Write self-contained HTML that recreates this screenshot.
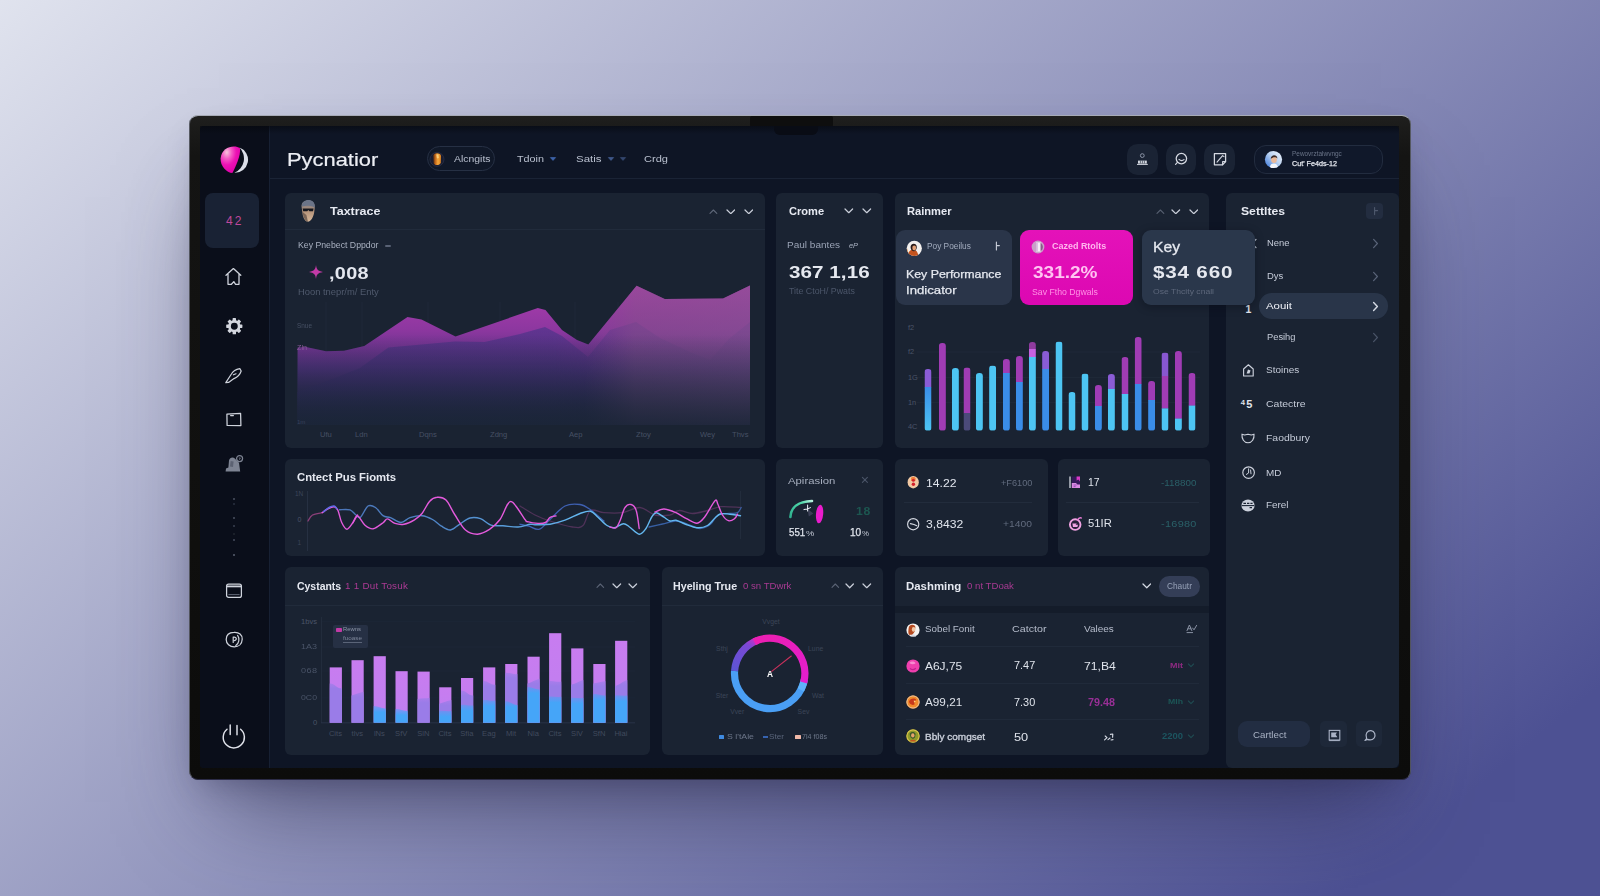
<!DOCTYPE html>
<html><head><meta charset="utf-8"><title>Dashboard</title>
<style>
html,body{margin:0;padding:0;}
body{width:1600px;height:896px;overflow:hidden;position:relative;font-family:"Liberation Sans",sans-serif;
background:linear-gradient(140.7deg,#e0e3ee 0%,#4d5193 90.5%,#4d5193 100%);}
.b{position:absolute;display:block;}
.t{position:absolute;white-space:nowrap;line-height:1;display:block;transform-origin:0 50%;}
</style></head><body>
<div class="b" style="left:189px;top:115px;width:1222px;height:665px;background:linear-gradient(180deg,#1f1f1e 0,#1b1b1a 12px,#141413 40px,#0c0c0b 100%);border-radius:9px;box-shadow:0 52px 90px -30px rgba(38,38,72,.62),0 14px 30px -12px rgba(38,38,72,.35);border-top:1px solid #8d9099;box-sizing:border-box"></div>
<div class="b" style="left:189px;top:115px;width:1222px;height:665px;border-radius:9px;box-sizing:border-box;border:1px solid rgba(140,144,160,.55);border-top-color:rgba(170,174,186,.9);border-bottom-color:rgba(60,60,100,.7)"></div>
<div class="b" style="left:750.0px;top:116.0px;width:83.0px;height:11.0px;background:#0e0e0e;border-radius:2px;"></div>
<div class="b" style="left:200.0px;top:126.0px;width:1199.0px;height:642.0px;background:#0e1525;border-radius:4px;"></div>
<div class="b" style="left:200.0px;top:126.0px;width:69.0px;height:642.0px;background:#0a0e1a;border-radius:0px;border-radius:4px 0 0 4px;"></div>
<div class="b" style="left:269.0px;top:126.0px;width:1.0px;height:642.0px;background:#172033;border-radius:0px;"></div>
<div class="b" style="left:270.0px;top:178.0px;width:1129.0px;height:1.0px;background:#1a2335;border-radius:0px;"></div>
<div class="b" style="left:200.0px;top:126.0px;width:1199.0px;height:8.0px;background:linear-gradient(180deg,rgba(5,7,12,.55),rgba(5,7,12,0));border-radius:0px;"></div>
<div class="b" style="left:774.0px;top:126.0px;width:44.0px;height:8.5px;background:#090c15;border-radius:0px;border-radius:0 0 6px 6px;"></div>
<div class="b" style="left:284.5px;top:192.5px;width:480.5px;height:255.0px;background:#1a2332;border-radius:6px;"></div>
<div class="b" style="left:775.8px;top:192.5px;width:107.5px;height:255.0px;background:#1a2332;border-radius:6px;"></div>
<div class="b" style="left:894.8px;top:192.5px;width:314.7px;height:255.0px;background:#1a2332;border-radius:6px;"></div>
<div class="b" style="left:1226.0px;top:192.5px;width:173.0px;height:575.5px;background:#1a2332;border-radius:6px;"></div>
<div class="b" style="left:284.5px;top:459.0px;width:480.5px;height:96.5px;background:#1a2332;border-radius:6px;"></div>
<div class="b" style="left:775.8px;top:459.0px;width:107.5px;height:96.5px;background:#1a2332;border-radius:6px;"></div>
<div class="b" style="left:895.0px;top:459.0px;width:152.8px;height:96.5px;background:#1a2332;border-radius:6px;"></div>
<div class="b" style="left:1057.5px;top:459.0px;width:152.0px;height:96.5px;background:#1a2332;border-radius:6px;"></div>
<div class="b" style="left:284.5px;top:567.0px;width:365.5px;height:187.5px;background:#1a2332;border-radius:6px;"></div>
<div class="b" style="left:661.8px;top:567.0px;width:221.5px;height:187.5px;background:#1a2332;border-radius:6px;"></div>
<div class="b" style="left:894.8px;top:567.0px;width:314.7px;height:187.5px;background:#1a2332;border-radius:6px;"></div>
<div class="b" style="left:284.5px;top:228.5px;width:480.5px;height:1.0px;background:#212b3b;border-radius:0px;"></div>
<div class="b" style="left:284.5px;top:605.0px;width:365.5px;height:1.0px;background:#212b3b;border-radius:0px;"></div>
<div class="b" style="left:661.8px;top:605.0px;width:221.5px;height:1.0px;background:#212b3b;border-radius:0px;"></div>
<div class="b" style="left:894.8px;top:606.0px;width:314.7px;height:6.5px;background:#141c2a;border-radius:0px;"></div>
<svg class="b" style="left:218.0px;top:144.0px;" width="32" height="32" viewBox="0 0 32 32">
<defs>
<radialGradient id="lg1" cx="32%" cy="22%" r="80%"><stop offset="0" stop-color="#f8c4dc"/><stop offset=".3" stop-color="#f45cc6"/><stop offset=".6" stop-color="#ec12b4"/><stop offset="1" stop-color="#e000a8"/></radialGradient>
</defs>
<path d="M21.5 3.6 A13 13 0 0 1 16.5 28.8 A15.5 15.5 0 0 0 21.5 3.6Z" fill="#dcdfe9"/>
<path d="M22 4.2 C 16.5 0.4 3.6 2.6 2.6 14.4 C 2.2 22 8.6 28.6 14.4 29 C 17.6 23 23 11 22 4.2Z" fill="url(#lg1)"/>
</svg>
<div class="b" style="left:205.3px;top:192.5px;width:54.0px;height:55.5px;background:#192234;border-radius:8px;"></div>
<span class="t" style="left:226.0px;top:214.6px;font-size:12.0px;letter-spacing:2.15px;color:#c0489c;">42</span>
<svg class="b" style="left:223.0px;top:266.0px;" width="21" height="21" viewBox="0 0 21 21"><path d="M3 9.2 L10.4 2.6 L17.8 9.2 M5 8 V18.3 H8.4 L10.8 15.6 L12.6 18.3 H16 V8" fill="none" stroke="#cfd3dc" stroke-width="1.3" stroke-linejoin="round" stroke-linecap="round"/></svg>
<svg class="b" style="left:223.5px;top:315.5px;" width="20" height="20" viewBox="0 0 20 20"><g transform="translate(10.3,10.2)"><rect x="-1.7" y="-8.1" width="3.4" height="3.6" rx=".6" transform="rotate(0)" fill="#d3d6de"/><rect x="-1.7" y="-8.1" width="3.4" height="3.6" rx=".6" transform="rotate(45)" fill="#d3d6de"/><rect x="-1.7" y="-8.1" width="3.4" height="3.6" rx=".6" transform="rotate(90)" fill="#d3d6de"/><rect x="-1.7" y="-8.1" width="3.4" height="3.6" rx=".6" transform="rotate(135)" fill="#d3d6de"/><rect x="-1.7" y="-8.1" width="3.4" height="3.6" rx=".6" transform="rotate(180)" fill="#d3d6de"/><rect x="-1.7" y="-8.1" width="3.4" height="3.6" rx=".6" transform="rotate(225)" fill="#d3d6de"/><rect x="-1.7" y="-8.1" width="3.4" height="3.6" rx=".6" transform="rotate(270)" fill="#d3d6de"/><rect x="-1.7" y="-8.1" width="3.4" height="3.6" rx=".6" transform="rotate(315)" fill="#d3d6de"/><circle r="4.8" fill="none" stroke="#d3d6de" stroke-width="2.7"/></g></svg>
<svg class="b" style="left:223.0px;top:366.0px;" width="20" height="19" viewBox="0 0 20 19"><path d="M2.8 16.6 L8.4 8 C9.8 5.4 12.4 3.4 16.8 2.6 L18.2 5 C17 8.8 14.6 11 11 12.6 L5.6 16.4 Z M10.4 8.8 L13 7.8" fill="none" stroke="#cfd3dc" stroke-width="1.2" stroke-linejoin="round" stroke-linecap="round"/></svg>
<svg class="b" style="left:224.0px;top:410.0px;" width="20" height="18" viewBox="0 0 20 18"><path d="M2.9 4.2 L16.6 3.3 L16.9 15.6 L3.1 15.4Z" fill="none" stroke="#cfd3dc" stroke-width="1.25" stroke-linejoin="round"/><path d="M6.6 5.6 H9.4" stroke="#cfd3dc" stroke-width="1.2" stroke-linecap="round"/></svg>
<svg class="b" style="left:222.0px;top:453.0px;" width="26" height="22" viewBox="0 0 26 22"><path d="M3.6 18.6 L4 15.4 L6.4 14.6 L7 7.4 C7.6 4.4 11 3.6 12.8 5.4 L17 9.8 L18.2 18.6Z" fill="#7d8392"/><path d="M8.6 8 L11.6 8.6 L11 14 L8 13.6Z" fill="#5c6272"/><circle cx="17.6" cy="5.6" r="3" fill="none" stroke="#7d8392" stroke-width="1.2"/><path d="M16.8 5 L18.4 5 L17.4 6.8" fill="none" stroke="#7d8392" stroke-width=".8"/></svg>
<div class="b" style="left:233.2px;top:497.5px;width:2.0px;height:2.0px;background:#4a5060;border-radius:1px;"></div>
<div class="b" style="left:233.2px;top:503.2px;width:2.0px;height:2.0px;background:#2a3040;border-radius:1px;"></div>
<div class="b" style="left:233.2px;top:516.6px;width:2.0px;height:2.0px;background:#4a5060;border-radius:1px;"></div>
<div class="b" style="left:233.2px;top:524.6px;width:2.0px;height:2.0px;background:#3a4050;border-radius:1px;"></div>
<div class="b" style="left:233.2px;top:533.0px;width:2.0px;height:2.0px;background:#20262f;border-radius:1px;"></div>
<div class="b" style="left:233.2px;top:539.2px;width:2.0px;height:2.0px;background:#454b5c;border-radius:1px;"></div>
<div class="b" style="left:233.2px;top:553.8px;width:2.0px;height:2.0px;background:#5a6070;border-radius:1px;"></div>
<svg class="b" style="left:224.0px;top:581.0px;" width="20" height="19" viewBox="0 0 20 19"><rect x="2.6" y="3" width="14.8" height="13.4" rx="2" fill="none" stroke="#cfd3dc" stroke-width="1.25"/><path d="M3 5.4 H17" stroke="#cfd3dc" stroke-width="1.8"/><path d="M4.4 13.6 H15.6" stroke="#6a7080" stroke-width=".9"/></svg>
<svg class="b" style="left:223.0px;top:630.0px;" width="22" height="19" viewBox="0 0 22 19"><path d="M11 2.4 C16 2 19.4 5 19.2 9.2 C19 14 15.6 16.8 11.4 16.8 C6.6 16.8 3.2 13.8 3.2 9.4 C3.2 5 6.4 2.6 11 2.4Z" fill="none" stroke="#cfd3dc" stroke-width="1.25"/><path d="M10.2 12.4 V7.2 C13.4 6.4 14.6 9.8 11.4 10.6 M14.6 5.4 C17 8.6 16 13.4 12.8 15.6" fill="none" stroke="#cfd3dc" stroke-width="1.2" stroke-linecap="round"/></svg>
<svg class="b" style="left:219.0px;top:721.0px;" width="30" height="30" viewBox="0 0 30 30"><path d="M8 8.2 A10.6 10.6 0 1 0 21.6 8.2" fill="none" stroke="#e0e2ea" stroke-width="1.45" stroke-linecap="round"/><path d="M11.2 4 V13.6 M18 4.4 V13.8" stroke="#e0e2ea" stroke-width="1.45" stroke-linecap="round"/></svg>
<span class="t" style="left:286.8px;top:149.7px;font-size:19.0px;letter-spacing:0.00px;color:#eceef4;transform:scaleX(1.152);-webkit-text-stroke:.2px #eceef4;">Pycnatior</span>
<div class="b" style="left:426.5px;top:146px;width:68.5px;height:24.5px;border:1px solid #263044;border-radius:13px;box-sizing:border-box;background:#101828"></div>
<svg class="b" style="left:429.0px;top:151.0px;" width="16" height="17" viewBox="0 0 16 17"><defs><linearGradient id="oa" x1="0" y1="0" x2="1" y2="0"><stop offset="0" stop-color="#5a2c10"/><stop offset=".3" stop-color="#c56a1c"/><stop offset=".6" stop-color="#f5a83c"/><stop offset="1" stop-color="#d9801e"/></linearGradient></defs>
<circle cx="8" cy="8.3" r="7" fill="#1a1d30" stroke="#262c44" stroke-width="1"/><path d="M4.2 4.6 C5.4 1.6 10.8 1.6 12 4.8 L11.8 11.4 C11 14.6 5.6 15 4.6 12 Z" fill="url(#oa)"/><path d="M7.2 3.6 L9.4 3.4 L9.8 7 L8 7.6Z" fill="#ffd98a" opacity=".8"/></svg>
<span class="t" style="left:453.5px;top:154.2px;font-size:9.6px;letter-spacing:0.00px;color:#b9c0cf;transform:scaleX(1.086);">Alcngits</span>
<span class="t" style="left:517.0px;top:154.2px;font-size:9.6px;letter-spacing:0.00px;color:#b9c0cf;transform:scaleX(1.124);">Tdoin</span>
<svg class="b" style="left:549.0px;top:156.0px;" width="8" height="6" viewBox="0 0 8 6"><path d="M1.4 1.6 L4 4.4 L6.6 1.6Z" fill="#3d63a8" stroke="#3d63a8" stroke-width=".8" stroke-linejoin="round"/></svg>
<span class="t" style="left:576.0px;top:154.2px;font-size:9.6px;letter-spacing:0.00px;color:#b9c0cf;transform:scaleX(1.195);">Satis</span>
<svg class="b" style="left:606.5px;top:156.0px;" width="8" height="6" viewBox="0 0 8 6"><path d="M1.4 1.6 L4 4.4 L6.6 1.6Z" fill="#40598c" stroke="#40598c" stroke-width=".8" stroke-linejoin="round"/></svg>
<svg class="b" style="left:618.5px;top:156.0px;" width="8" height="6" viewBox="0 0 8 6"><path d="M1.4 1.6 L4 4.4 L6.6 1.6Z" fill="#33476f" stroke="#33476f" stroke-width=".8" stroke-linejoin="round"/></svg>
<span class="t" style="left:644.0px;top:154.2px;font-size:9.6px;letter-spacing:0.00px;color:#b9c0cf;transform:scaleX(1.153);">Crdg</span>
<div class="b" style="left:1127.0px;top:144.0px;width:30.6px;height:30.5px;background:#1a2334;border-radius:10.5px;"></div>
<div class="b" style="left:1165.7px;top:144.0px;width:30.6px;height:30.5px;background:#1a2334;border-radius:10.5px;"></div>
<div class="b" style="left:1204.4px;top:144.0px;width:30.6px;height:30.5px;background:#1a2334;border-radius:10.5px;"></div>
<svg class="b" style="left:1134.0px;top:151.0px;" width="17" height="17" viewBox="0 0 17 17"><circle cx="8.3" cy="4.6" r="1.9" fill="none" stroke="#8a93a6" stroke-width="1"/><path d="M4 9.6 H12.8 V12.6 H4Z" fill="#d5d9e2"/><path d="M3 13.4 H13.8" stroke="#d5d9e2" stroke-width="1"/><path d="M6.4 9.6 V12.4 M8.4 9.6 V12.4 M10.4 9.6 V12.4" stroke="#1a2334" stroke-width=".6"/></svg>
<svg class="b" style="left:1172.0px;top:150.0px;" width="18" height="18" viewBox="0 0 18 18"><circle cx="9.4" cy="8.6" r="5.2" fill="none" stroke="#d5d9e2" stroke-width="1.3"/><path d="M5.4 12.4 L3.6 14.4 M7 9.4 C8.6 10.8 10.6 10.8 12 9.6" fill="none" stroke="#d5d9e2" stroke-width="1.2" stroke-linecap="round"/></svg>
<svg class="b" style="left:1210.5px;top:150.0px;" width="18" height="18" viewBox="0 0 18 18"><path d="M3.4 3.6 H14.6 V11.6 L11.6 14.8 H3.4Z" fill="none" stroke="#d5d9e2" stroke-width="1.25" stroke-linejoin="round"/><path d="M6 12.2 L11.6 5.6 L13 6.6 M11.6 14.8 V11.6 H14.6" fill="none" stroke="#d5d9e2" stroke-width="1.1" stroke-linecap="round" stroke-linejoin="round"/></svg>
<div class="b" style="left:1254px;top:144.8px;width:129px;height:29px;border:1px solid #222c3f;border-radius:12px;box-sizing:border-box;background:#10182a"></div>
<svg class="b" style="left:1264.3px;top:149.9px;" width="19" height="19" viewBox="0 0 19 19"><defs><linearGradient id="ua" x1="0" y1="1" x2="1" y2="0"><stop offset="0" stop-color="#2f6fd8"/><stop offset=".55" stop-color="#bcd4f2"/><stop offset="1" stop-color="#f2f5fb"/></linearGradient><clipPath id="uc"><circle cx="9.5" cy="9.5" r="8.6"/></clipPath></defs>
<circle cx="9.5" cy="9.5" r="8.6" fill="url(#ua)"/><g clip-path="url(#uc)"><path d="M5.6 19 C5.8 14.6 7.4 13.4 9.8 13.4 C12.4 13.4 14 14.8 14.2 19Z" fill="#f4f6fa"/><ellipse cx="10" cy="9.4" rx="2.9" ry="3.5" fill="#e9b99a"/><path d="M6.8 8.8 C6.6 4.6 13.2 4 13.4 8.4 C12 6.8 9 6.6 6.8 8.8Z" fill="#3a2a26"/></g></svg>
<span class="t" style="left:1292.0px;top:150.5px;font-size:6.3px;letter-spacing:0.00px;color:#6a7488;transform:scaleX(1.023);">Pewovrztalwvngc</span>
<span class="t" style="left:1292.0px;top:160.4px;font-size:7.9px;letter-spacing:0.00px;color:#e6e9f0;transform:scaleX(0.911);-webkit-text-stroke:.25px #e6e9f0;">Cut' Fe4ds-12</span>
<svg class="b" style="left:297.0px;top:198.0px;" width="22" height="27" viewBox="0 0 22 27"><defs><linearGradient id="hd" x1="0" y1="0" x2="0" y2="1"><stop offset="0" stop-color="#6d7689"/><stop offset=".5" stop-color="#b39178"/><stop offset="1" stop-color="#d8b99b"/></linearGradient></defs>
<path d="M4.6 9 C4 3 10 1.2 13.6 2.4 C17.6 3.6 18.4 8 17.4 12.4 C17 17 15.4 21.6 12 23.6 C9 24.4 6.4 21 5.6 16 Z" fill="url(#hd)"/>
<path d="M4.8 8.4 C5 3.6 9.6 1.4 13.8 2.4 C17 3.4 18.2 6.4 17.8 9.4 C13 7.4 8.6 7.6 4.8 8.4Z" fill="#6b7488"/>
<path d="M5.6 10.6 H16.6 L16 13.2 H12.4 L11.4 12 L10.2 13.2 H6.2Z" fill="#15171f"/>
<path d="M5.6 14 C6 19 8 23.4 11 23.8 L9.4 17Z" fill="#5b4a42" opacity=".7"/></svg>
<span class="t" style="left:330.0px;top:206.1px;font-size:10.6px;letter-spacing:0.00px;color:#e6e9f1;font-weight:bold;transform:scaleX(1.179);">Taxtrace</span>
<svg class="b" style="left:709.4px;top:208.6px;" width="8.8" height="5.4" viewBox="0 0 8.8 5.4"><path d="M1 4.4 L4.4 1 L7.8 4.4" fill="none" stroke="#5f6879" stroke-width="1.1" stroke-linecap="round" stroke-linejoin="round"/></svg>
<svg class="b" style="left:725.8px;top:208.5px;" width="9.6" height="5.7" viewBox="0 0 9.6 5.7"><path d="M1 1 L4.8 4.7 L8.6 1" fill="none" stroke="#c9ced9" stroke-width="1.25" stroke-linecap="round" stroke-linejoin="round"/></svg>
<svg class="b" style="left:743.5px;top:208.5px;" width="9.6" height="5.7" viewBox="0 0 9.6 5.7"><path d="M1 1 L4.8 4.7 L8.6 1" fill="none" stroke="#c9ced9" stroke-width="1.25" stroke-linecap="round" stroke-linejoin="round"/></svg>
<span class="t" style="left:298.0px;top:241.4px;font-size:8.6px;letter-spacing:0.00px;color:#a9b1c1;transform:scaleX(1.014);">Key Pnebect Dppdor</span>
<div class="b" style="left:385.0px;top:244.6px;width:6.0px;height:2.8px;background:#596275;border-radius:1.4px;"></div>
<svg class="b" style="left:308.0px;top:264.0px;" width="16" height="16" viewBox="0 0 16 16"><path d="M8 1 C8.6 5.4 9.6 6.8 15 8 C9.6 9 8.6 10.4 8 15 C7.4 10.4 6.4 9 1 8 C6.4 6.8 7.4 5.4 8 1Z" fill="#c23aa6"/></svg>
<span class="t" style="left:329.0px;top:264.7px;font-size:16.5px;letter-spacing:0.27px;color:#e4e7ef;font-weight:bold;transform:scaleX(1.200);">,008</span>
<span class="t" style="left:298.0px;top:287.5px;font-size:8.4px;letter-spacing:0.00px;color:#4f596c;transform:scaleX(1.119);">Hoon tnepr/m/ Enty</span>
<svg class="b" style="left:284.0px;top:230.0px;" width="481" height="218" viewBox="0 0 481 218"><defs>
<linearGradient id="ag1" gradientUnits="userSpaceOnUse" x1="0" y1="55" x2="0" y2="196"><stop offset="0" stop-color="#b03cb0"/><stop offset=".32" stop-color="#8c379f"/><stop offset=".6" stop-color="#533283" stop-opacity=".95"/><stop offset=".82" stop-color="#2e2b5a" stop-opacity=".85"/><stop offset="1" stop-color="#1e2842" stop-opacity=".55"/></linearGradient>
<linearGradient id="ag2" gradientUnits="userSpaceOnUse" x1="0" y1="95" x2="0" y2="196"><stop offset="0" stop-color="#5a3590" stop-opacity=".85"/><stop offset=".6" stop-color="#3a2d6c" stop-opacity=".6"/><stop offset="1" stop-color="#222a48" stop-opacity="0"/></linearGradient>
<linearGradient id="ag3" gradientUnits="userSpaceOnUse" x1="300" y1="0" x2="470" y2="0"><stop offset="0" stop-color="#6d5078" stop-opacity="0"/><stop offset=".3" stop-color="#7d5682" stop-opacity=".45"/><stop offset="1" stop-color="#80588a" stop-opacity=".55"/></linearGradient>
<linearGradient id="hmg" gradientUnits="userSpaceOnUse" x1="270" y1="0" x2="345" y2="0"><stop offset="0" stop-color="#fff"/><stop offset="1" stop-color="#666"/></linearGradient><mask id="hm" maskUnits="userSpaceOnUse" x="0" y="0" width="481" height="218"><rect x="0" y="0" width="481" height="218" fill="url(#hmg)"/></mask>
<linearGradient id="fadeb" gradientUnits="userSpaceOnUse" x1="0" y1="105" x2="0" y2="196"><stop offset="0" stop-color="#1b2538" stop-opacity="0"/><stop offset=".7" stop-color="#1b2538" stop-opacity=".6"/><stop offset="1" stop-color="#1b2538" stop-opacity=".9"/></linearGradient>
</defs>
<path d="M42.0 72 V195" stroke="#1f2838" stroke-width="1"/><path d="M78.0 72 V195" stroke="#1f2838" stroke-width="1"/><path d="M144.0 72 V195" stroke="#1f2838" stroke-width="1"/><path d="M216.0 72 V195" stroke="#1f2838" stroke-width="1"/><path d="M291.0 72 V195" stroke="#1f2838" stroke-width="1"/><path d="M334.0 72 V195" stroke="#1f2838" stroke-width="1"/><path d="M361.0 72 V195" stroke="#1f2838" stroke-width="1"/><path d="M396.0 72 V195" stroke="#1f2838" stroke-width="1"/><path d="M424.0 72 V195" stroke="#1f2838" stroke-width="1"/><path d="M457.0 72 V195" stroke="#1f2838" stroke-width="1"/>
<path d="M13.6 194.6 H466" stroke="#222c3c" stroke-width="1"/>
<polygon points="13.6,117.5 22.0,117.0 42.0,121.3 60.0,120.7 80.3,116.0 123.5,87.0 137.5,89.4 171.5,106.5 253.8,78.0 261.5,80.0 278.0,100.0 293.0,110.0 304.3,114.6 352.6,55.8 380.7,69.0 439.0,68.4 466.0,55.6 466,195 13.6,195" fill="url(#ag1)"/>
<g mask="url(#hm)"><polygon points="13.6,162.0 46.0,150.0 76.0,138.0 104.4,117.5 140.5,114.3 170.7,111.4 200.8,112.0 236.0,104.0 261.0,97.0 278.0,106.0 304.0,127.0 304.0,127.0 326.0,100.0 352.0,92.0 376.0,108.0 406.0,122.0 426.0,130.0 446.0,108.0 466.0,92.0 466,195 13.6,195" fill="url(#ag2)"/></g>
<polygon points="13.6,117.5 22.0,117.0 42.0,121.3 60.0,120.7 80.3,116.0 123.5,87.0 137.5,89.4 171.5,106.5 253.8,78.0 261.5,80.0 278.0,100.0 293.0,110.0 304.3,114.6 352.6,55.8 380.7,69.0 439.0,68.4 466.0,55.6 466,195 13.6,195" fill="url(#ag3)"/>
<polygon points="13.6,117.5 22.0,117.0 42.0,121.3 60.0,120.7 80.3,116.0 123.5,87.0 137.5,89.4 171.5,106.5 253.8,78.0 261.5,80.0 278.0,100.0 293.0,110.0 304.3,114.6 352.6,55.8 380.7,69.0 439.0,68.4 466.0,55.6 466,195 13.6,195" fill="url(#fadeb)"/>
</svg>
<span class="t" style="left:297.0px;top:322.7px;font-size:6.8px;letter-spacing:0.00px;color:#465064;transform:scaleX(0.944);">Snue</span>
<span class="t" style="left:297.0px;top:344.1px;font-size:7.0px;letter-spacing:0.00px;color:#8a5a9a;transform:scaleX(1.028);">Zln</span>
<span class="t" style="left:297.0px;top:419.1px;font-size:6.0px;letter-spacing:0.00px;color:#39425a;">1m</span>
<span class="t" style="left:320.0px;top:430.5px;font-size:7.6px;letter-spacing:0.00px;color:#465064;">Ufu</span>
<span class="t" style="left:355.0px;top:430.5px;font-size:7.6px;letter-spacing:0.00px;color:#465064;">Ldn</span>
<span class="t" style="left:419.0px;top:430.5px;font-size:7.6px;letter-spacing:0.00px;color:#465064;">Dqns</span>
<span class="t" style="left:490.0px;top:430.5px;font-size:7.6px;letter-spacing:0.00px;color:#465064;">Zdng</span>
<span class="t" style="left:569.0px;top:430.5px;font-size:7.6px;letter-spacing:0.00px;color:#465064;">Aep</span>
<span class="t" style="left:636.0px;top:430.5px;font-size:7.6px;letter-spacing:0.00px;color:#465064;">Ztoy</span>
<span class="t" style="left:700.0px;top:430.5px;font-size:7.6px;letter-spacing:0.00px;color:#465064;">Wey</span>
<span class="t" style="left:732.0px;top:430.5px;font-size:7.6px;letter-spacing:0.00px;color:#465064;">Thvs</span>
<span class="t" style="left:789.4px;top:206.0px;font-size:10.6px;letter-spacing:0.00px;color:#e6e9f1;font-weight:bold;transform:scaleX(1.045);">Crome</span>
<svg class="b" style="left:844.2px;top:208.3px;" width="9.6" height="5.7" viewBox="0 0 9.6 5.7"><path d="M1 1 L4.8 4.7 L8.6 1" fill="none" stroke="#c9ced9" stroke-width="1.25" stroke-linecap="round" stroke-linejoin="round"/></svg>
<svg class="b" style="left:862.4px;top:208.3px;" width="9.6" height="5.7" viewBox="0 0 9.6 5.7"><path d="M1 1 L4.8 4.7 L8.6 1" fill="none" stroke="#c9ced9" stroke-width="1.25" stroke-linecap="round" stroke-linejoin="round"/></svg>
<span class="t" style="left:787.0px;top:241.4px;font-size:8.6px;letter-spacing:0.00px;color:#9aa3b5;transform:scaleX(1.167);">Paul bantes</span>
<span class="t" style="left:848.5px;top:241.7px;font-size:7.6px;letter-spacing:0.00px;color:#aab2c2;transform:scaleX(0.968);font-style:italic;">eP</span>
<span class="t" style="left:788.8px;top:264.2px;font-size:17.2px;letter-spacing:0.04px;color:#e6e9f0;font-weight:bold;transform:scaleX(1.200);">367 1,16</span>
<span class="t" style="left:789.0px;top:287.8px;font-size:8.2px;letter-spacing:0.00px;color:#4c566a;transform:scaleX(1.078);">Tite CtoH/ Pwats</span>
<span class="t" style="left:907.0px;top:206.0px;font-size:10.6px;letter-spacing:0.00px;color:#e6e9f1;font-weight:bold;transform:scaleX(1.049);">Rainmer</span>
<svg class="b" style="left:1155.8px;top:208.6px;" width="8.8" height="5.4" viewBox="0 0 8.8 5.4"><path d="M1 4.4 L4.4 1 L7.8 4.4" fill="none" stroke="#565f70" stroke-width="1.1" stroke-linecap="round" stroke-linejoin="round"/></svg>
<svg class="b" style="left:1171.2px;top:208.5px;" width="9.6" height="5.7" viewBox="0 0 9.6 5.7"><path d="M1 1 L4.8 4.7 L8.6 1" fill="none" stroke="#c9ced9" stroke-width="1.25" stroke-linecap="round" stroke-linejoin="round"/></svg>
<svg class="b" style="left:1188.8px;top:208.5px;" width="9.6" height="5.7" viewBox="0 0 9.6 5.7"><path d="M1 1 L4.8 4.7 L8.6 1" fill="none" stroke="#c9ced9" stroke-width="1.25" stroke-linecap="round" stroke-linejoin="round"/></svg>
<div class="b" style="left:895.5px;top:229.8px;width:116.7px;height:75.0px;background:#2a3549;border-radius:9px;"></div>
<svg class="b" style="left:906.0px;top:239.5px;" width="17" height="17" viewBox="0 0 17 17"><clipPath id="k1"><circle cx="8.3" cy="8.3" r="7.6"/></clipPath><circle cx="8.3" cy="8.3" r="7.6" fill="#f3f0ee"/><g clip-path="url(#k1)"><path d="M2 17 C2 11 4.4 9.6 7.4 9.8 C10.4 10 12 12 12.4 17Z" fill="#c4541f"/><path d="M4.6 7.6 C4 3 10.6 2 10.8 7 C10.8 9.6 9.4 11.4 7.6 11.2 C5.8 11 4.8 9.6 4.6 7.6Z" fill="#2a1a18"/><ellipse cx="8.2" cy="8" rx="1.9" ry="2.4" fill="#e6a379"/><path d="M1 8 C2 12 3 14 4 17 H0Z" fill="#e58a3a"/></g></svg>
<span class="t" style="left:927.0px;top:241.9px;font-size:8.4px;letter-spacing:0.00px;color:#a2abbd;transform:scaleX(0.992);">Poy Poeilus</span>
<svg class="b" style="left:992.0px;top:241.0px;" width="8" height="10" viewBox="0 0 8 10"><path d="M4.4 1 V9 M4.4 4.6 H7.4" stroke="#c8cdd8" stroke-width="1.1" fill="none" stroke-linecap="round"/></svg>
<span class="t" style="left:906.4px;top:268.3px;font-size:11.6px;letter-spacing:0.00px;color:#e6e9f0;transform:scaleX(1.065);-webkit-text-stroke:.25px #e6e9f0;">Key Performance</span>
<span class="t" style="left:906.4px;top:284.3px;font-size:11.6px;letter-spacing:0.00px;color:#e6e9f0;transform:scaleX(1.137);-webkit-text-stroke:.25px #e6e9f0;">Indicator</span>
<div class="b" style="left:1020.0px;top:229.8px;width:113.0px;height:75.0px;background:linear-gradient(180deg,#e412b9,#dc08b2);border-radius:9px;"></div>
<svg class="b" style="left:1030.5px;top:240.0px;" width="14" height="14" viewBox="0 0 14 14"><circle cx="7" cy="7" r="6.4" fill="#c9a0c8"/><path d="M5 2.4 H9.6 V11.6 H5Z" fill="#f6eef6"/><path d="M5 2.4 H6.8 V11.6 H5Z" fill="#d7b8de"/><path d="M9.6 3 C12.6 4.6 12.6 9.6 9.6 11Z" fill="#8b5a8a"/></svg>
<span class="t" style="left:1051.7px;top:241.8px;font-size:8.6px;letter-spacing:0.00px;color:#ffb6ee;font-weight:bold;transform:scaleX(1.043);">Cazed Rtolts</span>
<span class="t" style="left:1032.5px;top:264.4px;font-size:17.2px;letter-spacing:0.00px;color:#ffc4f2;font-weight:bold;transform:scaleX(1.106);">331.2%</span>
<span class="t" style="left:1032.0px;top:287.5px;font-size:8.4px;letter-spacing:0.00px;color:#ff92e6;transform:scaleX(1.040);">Sav Ftho Dgwals</span>
<svg class="b" style="left:895.0px;top:310.0px;" width="315" height="137" viewBox="0 0 315 137"><defs><linearGradient id="gb" x1="0" y1="0" x2="0" y2="1"><stop offset="0" stop-color="#3a8de8"/><stop offset="1" stop-color="#4dc5f3"/></linearGradient></defs><path d="M22 42.0 H305" stroke="#1f2939" stroke-width="1"/><path d="M22 67.6 H305" stroke="#1f2939" stroke-width="1"/><path d="M22 92.6 H305" stroke="#1f2939" stroke-width="1"/><clipPath id="bc0"><rect x="29.5" y="59.0" width="7" height="61.6" rx="3.2"/></clipPath><g clip-path="url(#bc0)"><rect x="29.5" y="59.0" width="7" height="18.3" fill="#8a5cd6"/><rect x="29.5" y="77.0" width="7" height="43.9" fill="url(#gb)"/></g><clipPath id="bc1"><rect x="43.9" y="33.0" width="7" height="87.6" rx="3.2"/></clipPath><g clip-path="url(#bc1)"><rect x="43.9" y="33.0" width="7" height="87.9" fill="#a03cb4"/></g><clipPath id="bc2"><rect x="56.9" y="58.0" width="7" height="62.6" rx="3.2"/></clipPath><g clip-path="url(#bc2)"><rect x="56.9" y="58.0" width="7" height="62.9" fill="#4dc5f3"/></g><clipPath id="bc3"><rect x="68.5" y="57.4" width="7" height="63.2" rx="3.2"/></clipPath><g clip-path="url(#bc3)"><rect x="68.5" y="57.4" width="7" height="45.9" fill="#a03cb4"/><rect x="68.5" y="103.0" width="7" height="17.9" fill="#4b4a7a"/></g><clipPath id="bc4"><rect x="80.9" y="63.0" width="7" height="57.6" rx="3.2"/></clipPath><g clip-path="url(#bc4)"><rect x="80.9" y="63.0" width="7" height="57.9" fill="#4dc5f3"/></g><clipPath id="bc5"><rect x="94.1" y="55.6" width="7" height="65.0" rx="3.2"/></clipPath><g clip-path="url(#bc5)"><rect x="94.1" y="55.6" width="7" height="65.3" fill="#4dc5f3"/></g><clipPath id="bc6"><rect x="107.9" y="49.0" width="7" height="71.6" rx="3.2"/></clipPath><g clip-path="url(#bc6)"><rect x="107.9" y="49.0" width="7" height="14.3" fill="#a03cb4"/><rect x="107.9" y="63.0" width="7" height="57.9" fill="#3a8de8"/></g><clipPath id="bc7"><rect x="120.9" y="46.0" width="7" height="74.6" rx="3.2"/></clipPath><g clip-path="url(#bc7)"><rect x="120.9" y="46.0" width="7" height="26.3" fill="#a03cb4"/><rect x="120.9" y="72.0" width="7" height="48.9" fill="#3a8de8"/></g><clipPath id="bc8"><rect x="133.9" y="32.0" width="7" height="88.6" rx="3.2"/></clipPath><g clip-path="url(#bc8)"><rect x="133.9" y="32.0" width="7" height="7.3" fill="#8f3b9e"/><rect x="133.9" y="39.0" width="7" height="8.3" fill="#c661e0"/><rect x="133.9" y="47.0" width="7" height="73.9" fill="#4dc5f3"/></g><clipPath id="bc9"><rect x="147.1" y="41.0" width="7" height="79.6" rx="3.2"/></clipPath><g clip-path="url(#bc9)"><rect x="147.1" y="41.0" width="7" height="18.3" fill="#8a5cd6"/><rect x="147.1" y="59.0" width="7" height="61.9" fill="#3a8de8"/></g><clipPath id="bc10"><rect x="160.5" y="31.6" width="7" height="89.0" rx="3.2"/></clipPath><g clip-path="url(#bc10)"><rect x="160.5" y="31.6" width="7" height="89.3" fill="#4dc5f3"/></g><clipPath id="bc11"><rect x="173.5" y="82.0" width="7" height="38.6" rx="3.2"/></clipPath><g clip-path="url(#bc11)"><rect x="173.5" y="82.0" width="7" height="38.9" fill="#4dc5f3"/></g><clipPath id="bc12"><rect x="186.5" y="63.6" width="7" height="57.0" rx="3.2"/></clipPath><g clip-path="url(#bc12)"><rect x="186.5" y="63.6" width="7" height="57.3" fill="#4dc5f3"/></g><clipPath id="bc13"><rect x="199.9" y="75.0" width="7" height="45.6" rx="3.2"/></clipPath><g clip-path="url(#bc13)"><rect x="199.9" y="75.0" width="7" height="21.3" fill="#a03cb4"/><rect x="199.9" y="96.0" width="7" height="24.9" fill="#3a8de8"/></g><clipPath id="bc14"><rect x="212.9" y="64.0" width="7" height="56.6" rx="3.2"/></clipPath><g clip-path="url(#bc14)"><rect x="212.9" y="64.0" width="7" height="15.3" fill="#8a5cd6"/><rect x="212.9" y="79.0" width="7" height="41.9" fill="#4dc5f3"/></g><clipPath id="bc15"><rect x="226.5" y="47.0" width="7" height="73.6" rx="3.2"/></clipPath><g clip-path="url(#bc15)"><rect x="226.5" y="47.0" width="7" height="37.3" fill="#a03cb4"/><rect x="226.5" y="84.0" width="7" height="36.9" fill="#4dc5f3"/></g><clipPath id="bc16"><rect x="239.7" y="27.0" width="7" height="93.6" rx="3.2"/></clipPath><g clip-path="url(#bc16)"><rect x="239.7" y="27.0" width="7" height="47.3" fill="#a03cb4"/><rect x="239.7" y="74.0" width="7" height="46.9" fill="#3a8de8"/></g><clipPath id="bc17"><rect x="253.1" y="71.0" width="7" height="49.6" rx="3.2"/></clipPath><g clip-path="url(#bc17)"><rect x="253.1" y="71.0" width="7" height="19.3" fill="#a03cb4"/><rect x="253.1" y="90.0" width="7" height="30.9" fill="#3a8de8"/></g><clipPath id="bc18"><rect x="266.5" y="42.6" width="7" height="78.0" rx="3.2"/></clipPath><g clip-path="url(#bc18)"><rect x="266.5" y="42.6" width="7" height="23.7" fill="#8857d0"/><rect x="266.5" y="66.0" width="7" height="32.7" fill="#a03cb4"/><rect x="266.5" y="98.4" width="7" height="22.5" fill="#4dc5f3"/></g><clipPath id="bc19"><rect x="279.9" y="41.0" width="7" height="79.6" rx="3.2"/></clipPath><g clip-path="url(#bc19)"><rect x="279.9" y="41.0" width="7" height="67.9" fill="#a03cb4"/><rect x="279.9" y="108.6" width="7" height="12.3" fill="#4dc5f3"/></g><clipPath id="bc20"><rect x="293.5" y="63.0" width="7" height="57.6" rx="3.2"/></clipPath><g clip-path="url(#bc20)"><rect x="293.5" y="63.0" width="7" height="32.9" fill="#a03cb4"/><rect x="293.5" y="95.6" width="7" height="25.3" fill="#4dc5f3"/></g></svg>
<span class="t" style="left:908.0px;top:324.0px;font-size:7.4px;letter-spacing:0.00px;color:#4a5468;">f2</span>
<span class="t" style="left:908.0px;top:348.4px;font-size:7.4px;letter-spacing:0.00px;color:#4a5468;">f2</span>
<span class="t" style="left:908.0px;top:374.0px;font-size:7.4px;letter-spacing:0.00px;color:#4a5468;">1G</span>
<span class="t" style="left:908.0px;top:399.0px;font-size:7.4px;letter-spacing:0.00px;color:#4a5468;">1n</span>
<span class="t" style="left:908.0px;top:423.4px;font-size:7.4px;letter-spacing:0.00px;color:#4a5468;">4C</span>
<span class="t" style="left:296.8px;top:471.8px;font-size:10.6px;letter-spacing:0.00px;color:#e6e9f1;font-weight:bold;transform:scaleX(1.066);">Cntect Pus Fiomts</span>
<svg class="b" style="left:284.0px;top:459.0px;" width="481" height="96.5" viewBox="0 0 481 96.5"><path d="M23.5 32 V92" stroke="#263042" stroke-width="1"/><path d="M456.5 32 V80" stroke="#222c3c" stroke-width="1"/><path d="M236.0 47.0 C238.5 48.5 246.0 53.5 251.0 56.0 C256.0 58.5 259.7 60.0 266.0 62.0 C272.2 64.0 283.0 67.2 288.5 68.0 C294.0 68.7 296.0 69.2 299.0 66.5 C302.0 63.7 303.0 53.6 306.5 51.5 C310.0 49.4 314.7 53.4 320.0 53.7 C325.2 54.1 332.0 54.6 338.0 53.7 C344.0 52.9 350.5 48.1 356.0 48.5 C361.5 48.9 366.0 54.7 371.0 56.0 C376.0 57.2 382.0 56.7 386.0 56.0 C390.0 55.2 391.2 51.7 395.0 51.5 C398.7 51.2 403.7 54.5 408.5 54.5 C413.2 54.5 418.7 52.6 423.5 51.5 C428.2 50.4 431.5 48.2 437.0 47.7 C442.5 47.2 453.2 48.4 456.5 48.5" fill="none" stroke="#5b3662" stroke-width="1.3" stroke-linecap="round" opacity="0.8"/><path d="M24.0 62.0 C24.7 61.0 26.1 57.4 28.5 56.0 C30.9 54.6 36.6 54.1 38.2 53.7" fill="none" stroke="#8a3f78" stroke-width="1.3" stroke-linecap="round" opacity="1"/><path d="M236.0 65.3 C237.5 65.6 241.7 66.4 245.0 67.2 C248.2 68.1 252.0 71.4 255.5 70.2 C259.0 69.1 261.7 64.4 266.0 60.5 C270.2 56.6 276.0 49.5 281.0 47.0 C286.0 44.5 291.7 44.9 296.0 45.5 C300.2 46.1 302.5 48.0 306.5 50.7 C310.5 53.5 317.7 60.1 320.0 62.0" fill="none" stroke="#3e60b2" stroke-width="1.35" stroke-linecap="round" opacity="1"/><path d="M365.0 68.0 C367.2 67.5 374.0 66.0 378.5 65.0 C383.0 64.0 387.7 61.9 392.0 62.0 C396.2 62.0 400.0 64.0 404.0 65.3 C408.0 66.5 412.2 69.5 416.0 69.5 C419.7 69.5 423.5 67.5 426.5 65.3 C429.5 63.0 430.7 57.8 434.0 56.0 C437.2 54.2 442.7 54.9 446.0 54.5 C449.2 54.1 451.6 54.7 453.5 53.7 C455.4 52.7 456.6 49.4 457.2 48.5" fill="none" stroke="#3b66b0" stroke-width="1.3" stroke-linecap="round" opacity="0.9"/><defs><linearGradient id="lbg" gradientUnits="userSpaceOnUse" x1="40" y1="0" x2="300" y2="0"><stop offset="0" stop-color="#4a72b6"/><stop offset=".45" stop-color="#4f86c8"/><stop offset="1" stop-color="#64b8f0"/></linearGradient></defs><path d="M55.5 50.7 C57.2 50.8 63.2 50.0 66.0 50.9 C68.7 51.8 70.2 54.8 72.0 56.0 C73.7 57.2 74.5 59.7 76.5 58.2 C78.5 56.7 81.5 48.6 84.0 47.0 C86.5 45.4 89.0 46.9 91.5 48.5 C94.0 50.1 96.5 55.0 99.0 56.7 C101.5 58.4 103.5 57.6 106.5 58.7 C109.5 59.8 113.7 63.5 117.0 63.5 C120.2 63.5 122.5 59.8 126.0 58.7 C129.5 57.6 134.2 56.4 138.0 56.7 C141.7 57.0 145.2 58.7 148.5 60.5 C151.7 62.2 154.5 65.5 157.5 67.2 C160.5 69.0 163.5 71.3 166.5 71.0 C169.5 70.7 172.2 67.3 175.5 65.3 C178.7 63.3 182.5 59.9 186.0 59.0 C189.5 58.1 193.0 58.5 196.5 59.7 C200.0 60.9 203.2 65.0 207.0 66.2 C210.7 67.4 214.5 66.5 219.0 66.8 C223.5 67.1 229.5 68.2 234.0 68.0 C238.5 67.7 243.2 65.7 246.0 65.3 C248.8 64.9 247.7 65.7 251.0 65.7 C254.3 65.7 261.0 66.0 266.0 65.3 C271.0 64.5 276.0 63.0 281.0 61.2 C286.0 59.4 291.7 56.0 296.0 54.5 C300.2 53.0 303.5 51.6 306.5 52.2 C309.5 52.9 311.2 55.9 314.0 58.2 C316.7 60.6 320.2 64.7 323.0 66.5 C325.7 68.2 327.7 69.0 330.5 68.7 C333.2 68.4 337.0 64.8 339.5 64.7 C342.0 64.6 342.9 66.2 345.5 68.0 C348.1 69.7 352.5 74.9 355.2 75.2 C358.0 75.4 359.9 72.4 362.0 69.5 C364.1 66.5 366.2 60.1 368.0 57.5 C369.7 54.9 370.5 53.6 372.5 53.7 C374.5 53.9 377.7 56.9 380.0 58.2 C382.2 59.6 384.0 61.5 386.0 62.0 C388.0 62.5 389.5 60.7 392.0 61.2 C394.5 61.7 397.5 63.7 401.0 65.0 C404.5 66.2 409.2 68.5 413.0 68.7 C416.7 69.0 420.5 68.1 423.5 66.5 C426.5 64.9 428.7 60.9 431.0 59.0 C433.2 57.0 434.5 55.4 437.0 54.8 C439.5 54.2 442.7 54.9 446.0 55.2 C449.2 55.6 454.7 56.5 456.5 56.7" fill="none" stroke="url(#lbg)" stroke-width="1.4" stroke-linecap="round" opacity="1"/><path d="M38.2 53.7 C39.1 53.1 41.5 51.0 43.5 50.0 C45.5 49.0 48.5 47.5 50.2 47.7 C52.0 48.0 52.7 48.9 54.0 51.5 C55.2 54.1 56.2 60.4 57.7 63.5 C59.2 66.6 61.1 70.2 63.0 70.2 C64.9 70.2 67.2 65.9 69.0 63.5 C70.7 61.1 72.7 57.2 73.5 56.0" fill="none" stroke="#e45adc" stroke-width="1.4" stroke-linecap="round" opacity="1"/><path d="M69.0 63.5 C69.7 62.4 71.5 56.3 73.5 56.7 C75.5 57.2 78.4 64.0 81.0 66.2 C83.6 68.4 86.2 70.2 89.2 69.8 C92.2 69.4 96.6 65.4 99.0 63.8 C101.4 62.1 101.5 59.8 103.5 59.9 C105.5 60.0 108.2 63.5 111.0 64.4 C113.7 65.3 116.7 65.9 120.0 65.3 C123.2 64.7 127.5 62.6 130.5 60.8 C133.5 59.0 135.5 57.5 138.0 54.5 C140.5 51.4 143.0 45.2 145.5 42.5 C148.0 39.8 150.2 38.5 153.0 38.3 C155.7 38.0 159.0 38.0 162.0 41.0 C165.0 43.9 167.7 51.0 171.0 56.0 C174.2 61.0 177.7 67.8 181.5 71.0 C185.2 74.2 189.5 75.3 193.5 75.2 C197.5 75.1 201.7 72.8 205.5 70.4 C209.2 67.9 213.0 64.6 216.0 60.5 C219.0 56.3 221.5 48.4 223.5 45.5 C225.5 42.5 226.2 42.0 228.0 42.8 C229.7 43.5 231.7 46.9 234.0 50.0 C236.2 53.1 239.9 59.1 241.5 61.2 C243.1 63.4 241.4 62.2 243.5 62.7 C245.6 63.3 251.0 64.3 254.0 64.4 C257.0 64.5 259.5 64.5 261.5 63.5 C263.5 62.5 264.2 59.5 266.0 58.4 C267.7 57.3 271.0 57.1 272.0 56.9" fill="none" stroke="#e45adc" stroke-width="1.4" stroke-linecap="round" opacity="1"/><path d="M326.0 68.0 C327.0 68.1 330.2 70.0 332.0 68.7 C333.7 67.5 335.0 63.9 336.5 60.5 C338.0 57.1 339.2 51.0 341.0 48.5 C342.7 46.0 345.1 45.0 347.0 45.5 C348.9 46.0 350.9 47.5 352.2 51.5 C353.6 55.5 354.7 66.5 355.2 69.5" fill="none" stroke="#e45adc" stroke-width="1.4" stroke-linecap="round" opacity="1"/><path d="M371.0 53.0 C372.5 52.5 376.5 49.9 380.0 50.0 C383.5 50.1 388.2 52.1 392.0 53.7 C395.7 55.4 399.0 58.0 402.5 59.7 C406.0 61.5 410.0 64.5 413.0 64.2 C416.0 64.0 417.5 62.0 420.5 58.2 C423.5 54.5 428.7 43.9 431.0 41.7 C433.2 39.6 432.7 43.1 434.0 45.5 C435.2 47.9 436.7 53.3 438.5 56.0 C440.2 58.7 442.5 61.1 444.5 61.7 C446.5 62.3 449.0 60.8 450.5 59.7 C452.0 58.7 453.0 56.0 453.5 55.2" fill="none" stroke="#e45adc" stroke-width="1.4" stroke-linecap="round" opacity="1"/><path d="M39.7 52.7 C40.6 52.0 43.2 49.4 45.0 48.5 C46.7 47.5 48.9 46.8 50.2 47.0 C51.5 47.2 52.4 49.2 52.8 49.7" fill="none" stroke="#5f6ce6" stroke-width="1.5" stroke-linecap="round" opacity="1"/></svg>
<span class="t" style="left:295.0px;top:491.3px;font-size:6.5px;letter-spacing:0.00px;color:#3c465a;">1N</span>
<span class="t" style="left:297.5px;top:516.1px;font-size:7.0px;letter-spacing:0.00px;color:#4c566a;">0</span>
<span class="t" style="left:297.5px;top:539.8px;font-size:6.5px;letter-spacing:0.00px;color:#3a4458;">1</span>
<span class="t" style="left:788.2px;top:476.2px;font-size:9.4px;letter-spacing:0.00px;color:#a6aebe;transform:scaleX(1.209);">Apirasion</span>
<svg class="b" style="left:860.0px;top:474.5px;" width="10" height="10" viewBox="0 0 10 10"><path d="M2.4 2.4 L7.4 7.4 M7.4 2.4 L2.4 7.4" stroke="#4a5468" stroke-width="1.1" stroke-linecap="round"/></svg>
<svg class="b" style="left:784.0px;top:494.0px;" width="44" height="32" viewBox="0 0 44 32"><defs><linearGradient id="gg" x1="0" y1="1" x2="1" y2="0"><stop offset="0" stop-color="#2fb08e"/><stop offset=".7" stop-color="#4fd8aa"/><stop offset="1" stop-color="#b8f2de"/></linearGradient></defs><path d="M6.4 23 C6.8 13.8 13.6 7.4 28 7" fill="none" stroke="url(#gg)" stroke-width="2.6" stroke-linecap="round"/>

<ellipse cx="35.6" cy="20" rx="3.6" ry="9.4" transform="rotate(5 35.6 20)" fill="#ea1ccc"/>
<path d="M23.6 15 L29.4 19.4 L24.8 22.4Z" fill="#3b3f56"/>
<path d="M23.6 11 V17 M20 15.6 L23.6 15 L26.4 13.6" fill="none" stroke="#e4e8f0" stroke-width="1.05" stroke-linecap="round"/></svg>
<span class="t" style="left:855.6px;top:507.4px;font-size:10.2px;letter-spacing:0.66px;color:#1c5650;font-weight:bold;transform:scaleX(1.200);">18</span>
<span class="t" style="left:788.8px;top:528.0px;font-size:10.2px;letter-spacing:0.00px;color:#e0e4ec;transform:scaleX(0.952);-webkit-text-stroke:.25px #e0e4ec;">551</span>
<span class="t" style="left:805.6px;top:529.8px;font-size:7.8px;letter-spacing:0.56px;color:#c0c6d2;transform:scaleX(1.200);">%</span>
<span class="t" style="left:850.2px;top:528.0px;font-size:10.2px;letter-spacing:0.00px;color:#e0e4ec;transform:scaleX(0.987);-webkit-text-stroke:.25px #e0e4ec;">10</span>
<span class="t" style="left:861.8px;top:529.8px;font-size:7.8px;letter-spacing:0.00px;color:#c0c6d2;transform:scaleX(1.009);">%</span>
<div class="b" style="left:904.0px;top:501.6px;width:128.0px;height:0.8px;background:#222c3c;border-radius:0px;"></div>
<div class="b" style="left:1066.0px;top:501.6px;width:133.0px;height:0.8px;background:#222c3c;border-radius:0px;"></div>
<svg class="b" style="left:905.5px;top:475.0px;" width="14" height="14" viewBox="0 0 14 14"><ellipse cx="7.2" cy="7.2" rx="5.6" ry="6.2" fill="#f2c9a4"/><path d="M5 3 C5.6 1.6 9.2 1.6 9.6 3.4 L9.4 6 H5.2Z" fill="#f0803a"/><circle cx="7.4" cy="5.2" r="1.5" fill="#d3202a"/><circle cx="7.4" cy="9.2" r="1.7" fill="#d3202a"/></svg>
<span class="t" style="left:926.0px;top:476.6px;font-size:11.6px;letter-spacing:-0.00px;color:#e0e4ec;transform:scaleX(1.054);">14.22</span>
<span class="t" style="left:1000.5px;top:478.5px;font-size:8.4px;letter-spacing:0.00px;color:#616b7e;transform:scaleX(1.097);">+F6100</span>
<svg class="b" style="left:905.5px;top:516.5px;" width="14" height="14" viewBox="0 0 14 14"><circle cx="7.2" cy="7.2" r="5.6" fill="none" stroke="#d5d9e2" stroke-width="1.15"/><path d="M4.4 6.6 L8 7.4 L10.8 8.8" fill="none" stroke="#d5d9e2" stroke-width="1.1" stroke-linecap="round"/></svg>
<span class="t" style="left:926.0px;top:518.1px;font-size:11.6px;letter-spacing:0.00px;color:#e0e4ec;transform:scaleX(1.049);">3,8432</span>
<span class="t" style="left:1003.0px;top:519.9px;font-size:8.4px;letter-spacing:0.00px;color:#616b7e;transform:scaleX(1.229);">+1400</span>
<svg class="b" style="left:1067.0px;top:475.0px;" width="15" height="14" viewBox="0 0 15 14"><path d="M3 1.6 V13" stroke="#d5d9e2" stroke-width="1.3"/><path d="M4.8 1.6 H13 V13 H4.8Z" fill="#34195a"/><path d="M9.6 1.6 H13 V6.4 L11.4 4.6 L9.6 5.6Z" fill="#d83ac4"/><path d="M4.8 8 H9 L10.4 9.4 H13 V13 H4.8Z" fill="#d98ae2"/><path d="M6.6 10 H9.6 M6.6 11.6 H8.6" stroke="#8a3fb0" stroke-width=".8"/></svg>
<span class="t" style="left:1087.6px;top:476.9px;font-size:11.0px;letter-spacing:0.00px;color:#e0e4ec;transform:scaleX(0.948);">17</span>
<span class="t" style="left:1161.0px;top:478.7px;font-size:8.4px;letter-spacing:0.00px;color:#2a6068;transform:scaleX(1.175);">-118800</span>
<svg class="b" style="left:1066.5px;top:514.5px;" width="17" height="17" viewBox="0 0 17 17"><circle cx="8.2" cy="9.6" r="5.3" fill="#2a1f3a" stroke="#f0a2e2" stroke-width="1.9"/><path d="M5.4 8.4 H9.8 L8.6 9.8 H11 L10.4 12 H6Z" fill="#f0a2e2"/><path d="M10.6 5.2 C11.4 3.4 13 2.6 14.2 3" fill="none" stroke="#e47ad4" stroke-width="1.5" stroke-linecap="round"/></svg>
<span class="t" style="left:1088.4px;top:518.4px;font-size:11.4px;letter-spacing:0.00px;color:#e0e4ec;transform:scaleX(0.988);">51IR</span>
<span class="t" style="left:1161.0px;top:520.1px;font-size:8.4px;letter-spacing:0.23px;color:#2a6068;transform:scaleX(1.300);">-16980</span>
<span class="t" style="left:296.6px;top:580.6px;font-size:10.6px;letter-spacing:0.00px;color:#e6e9f1;font-weight:bold;transform:scaleX(0.987);">Cystants</span>
<span class="t" style="left:344.5px;top:582.5px;font-size:8.2px;letter-spacing:0.21px;color:#ac3a94;transform:scaleX(1.200);">1 1 Dut Tosuk</span>
<svg class="b" style="left:596.3px;top:583.1px;" width="8.6" height="5.4" viewBox="0 0 8.6 5.4"><path d="M1 4.4 L4.3 1 L7.6 4.4" fill="none" stroke="#5a6375" stroke-width="1.1" stroke-linecap="round" stroke-linejoin="round"/></svg>
<svg class="b" style="left:612.0px;top:582.9px;" width="9.6" height="5.7" viewBox="0 0 9.6 5.7"><path d="M1 1 L4.8 4.7 L8.6 1" fill="none" stroke="#c9ced9" stroke-width="1.25" stroke-linecap="round" stroke-linejoin="round"/></svg>
<svg class="b" style="left:628.4px;top:582.9px;" width="9.6" height="5.7" viewBox="0 0 9.6 5.7"><path d="M1 1 L4.8 4.7 L8.6 1" fill="none" stroke="#c9ced9" stroke-width="1.25" stroke-linecap="round" stroke-linejoin="round"/></svg>
<svg class="b" style="left:284.5px;top:567.0px;" width="365.5" height="187.5" viewBox="0 0 365.5 187.5"><defs><linearGradient id="pk" x1="0" y1="0" x2="0" y2="1"><stop offset="0" stop-color="#c87cf0"/><stop offset="1" stop-color="#be80f0"/></linearGradient></defs><path d="M36 54.3 H350" stroke="#1c2636" stroke-width="1"/><path d="M36 80.0 H350" stroke="#1c2636" stroke-width="1"/><path d="M36 104.0 H350" stroke="#1c2636" stroke-width="1"/><path d="M36 130.8 H350" stroke="#1c2636" stroke-width="1"/><path d="M36.5 50 V156" stroke="#222c3c" stroke-width="1"/><path d="M36 155.8 H350" stroke="#283246" stroke-width="1"/><rect x="44.7" y="100.4" width="12.2" height="55.3" fill="url(#pk)"/><path d="M44.7 116.5 C48.9 115.7 52.6 122.1 56.9 121.3 V155.7 H44.7Z" fill="url(#vg0)"/><rect x="66.5" y="93.2" width="12.2" height="62.5" fill="url(#pk)"/><path d="M66.5 128.4 C70.8 127.6 74.4 125.6 78.7 124.8 V155.7 H66.5Z" fill="url(#vg1)"/><rect x="88.6" y="89.2" width="12.2" height="66.5" fill="url(#pk)"/><path d="M88.6 139.1 C92.9 138.5 96.5 142.0 100.8 141.4 V155.7 H88.6Z" fill="url(#bg2)"/><rect x="110.5" y="104.2" width="12.2" height="51.5" fill="url(#pk)"/><path d="M110.5 142.2 C114.7 141.6 118.4 144.4 122.7 143.8 V155.7 H110.5Z" fill="url(#bg3)"/><rect x="132.5" y="104.6" width="12.2" height="51.1" fill="url(#pk)"/><path d="M132.5 131.9 C136.8 131.1 140.5 131.6 144.7 130.8 V155.7 H132.5Z" fill="url(#vg4)"/><rect x="154.2" y="120.3" width="12.2" height="35.4" fill="url(#pk)"/><path d="M154.2 136.7 C158.4 135.9 162.1 133.9 166.4 133.1 V155.7 H154.2Z" fill="url(#vg5)"/><path d="M154.2 143.8 C158.4 143.2 162.1 144.7 166.4 144.1 V155.7 H154.2Z" fill="url(#bg5)"/><rect x="176.0" y="111.0" width="12.2" height="44.7" fill="url(#pk)"/><path d="M176.0 123.6 C180.3 122.8 183.9 129.2 188.2 128.4 V155.7 H176.0Z" fill="url(#vg6)"/><path d="M176.0 137.9 C180.3 137.3 183.9 139.0 188.2 138.4 V155.7 H176.0Z" fill="url(#bg6)"/><rect x="198.1" y="100.4" width="12.2" height="55.3" fill="url(#pk)"/><path d="M198.1 114.1 C202.4 113.3 206.0 118.5 210.3 117.7 V155.7 H198.1Z" fill="url(#vg7)"/><path d="M198.1 133.1 C202.4 132.5 206.0 134.2 210.3 133.6 V155.7 H198.1Z" fill="url(#bg7)"/><rect x="220.2" y="97.0" width="12.2" height="58.7" fill="url(#pk)"/><path d="M220.2 105.8 C224.4 105.0 228.1 107.8 232.4 107.0 V155.7 H220.2Z" fill="url(#vg8)"/><path d="M220.2 134.3 C224.4 133.7 228.1 138.5 232.4 137.9 V155.7 H220.2Z" fill="url(#bg8)"/><rect x="242.5" y="89.7" width="12.2" height="66.0" fill="url(#pk)"/><path d="M242.5 116.5 C246.8 115.7 250.4 112.6 254.7 111.8 V155.7 H242.5Z" fill="url(#vg9)"/><path d="M242.5 120.1 C246.8 119.5 250.4 123.0 254.7 122.4 V155.7 H242.5Z" fill="url(#bg9)"/><rect x="264.1" y="66.2" width="12.2" height="89.5" fill="url(#pk)"/><path d="M264.1 114.1 C268.4 113.3 272.0 115.4 276.3 114.6 V155.7 H264.1Z" fill="url(#vg10)"/><path d="M264.1 129.6 C268.4 129.0 272.0 130.4 276.3 129.8 V155.7 H264.1Z" fill="url(#bg10)"/><rect x="286.2" y="81.4" width="12.2" height="74.3" fill="url(#pk)"/><path d="M286.2 117.7 C290.5 116.9 294.1 113.7 298.4 112.9 V155.7 H286.2Z" fill="url(#vg11)"/><path d="M286.2 130.8 C290.5 130.2 294.1 131.6 298.4 131.0 V155.7 H286.2Z" fill="url(#bg11)"/><rect x="308.3" y="97.0" width="12.2" height="58.7" fill="url(#pk)"/><path d="M308.3 116.5 C312.6 115.7 316.2 114.9 320.5 114.1 V155.7 H308.3Z" fill="url(#vg12)"/><path d="M308.3 127.2 C312.6 126.6 316.2 129.0 320.5 128.4 V155.7 H308.3Z" fill="url(#bg12)"/><rect x="330.1" y="73.8" width="12.2" height="81.9" fill="url(#pk)"/><path d="M330.1 118.9 C334.4 118.1 338.1 113.7 342.3 112.9 V155.7 H330.1Z" fill="url(#vg13)"/><path d="M330.1 128.4 C334.4 127.8 338.1 129.2 342.3 128.6 V155.7 H330.1Z" fill="url(#bg13)"/><defs><linearGradient id="vg0" gradientUnits="userSpaceOnUse" x1="0" y1="115.5" x2="0" y2="121.5"><stop offset="0" stop-color="#9a7ce8" stop-opacity=".55"/><stop offset="1" stop-color="#9a7ce8"/></linearGradient><linearGradient id="vg1" gradientUnits="userSpaceOnUse" x1="0" y1="123.8" x2="0" y2="129.8"><stop offset="0" stop-color="#9a7ce8" stop-opacity=".55"/><stop offset="1" stop-color="#9a7ce8"/></linearGradient><linearGradient id="bg2" gradientUnits="userSpaceOnUse" x1="0" y1="137.6" x2="0" y2="145.1"><stop offset="0" stop-color="#45a5f8" stop-opacity=".35"/><stop offset="1" stop-color="#45a5f8"/></linearGradient><linearGradient id="bg3" gradientUnits="userSpaceOnUse" x1="0" y1="140.7" x2="0" y2="148.2"><stop offset="0" stop-color="#45a5f8" stop-opacity=".35"/><stop offset="1" stop-color="#45a5f8"/></linearGradient><linearGradient id="vg4" gradientUnits="userSpaceOnUse" x1="0" y1="129.8" x2="0" y2="135.8"><stop offset="0" stop-color="#9a7ce8" stop-opacity=".55"/><stop offset="1" stop-color="#9a7ce8"/></linearGradient><linearGradient id="vg5" gradientUnits="userSpaceOnUse" x1="0" y1="132.1" x2="0" y2="138.1"><stop offset="0" stop-color="#9a7ce8" stop-opacity=".55"/><stop offset="1" stop-color="#9a7ce8"/></linearGradient><linearGradient id="bg5" gradientUnits="userSpaceOnUse" x1="0" y1="142.3" x2="0" y2="149.8"><stop offset="0" stop-color="#45a5f8" stop-opacity=".35"/><stop offset="1" stop-color="#45a5f8"/></linearGradient><linearGradient id="vg6" gradientUnits="userSpaceOnUse" x1="0" y1="122.6" x2="0" y2="128.6"><stop offset="0" stop-color="#9a7ce8" stop-opacity=".55"/><stop offset="1" stop-color="#9a7ce8"/></linearGradient><linearGradient id="bg6" gradientUnits="userSpaceOnUse" x1="0" y1="136.4" x2="0" y2="143.9"><stop offset="0" stop-color="#45a5f8" stop-opacity=".35"/><stop offset="1" stop-color="#45a5f8"/></linearGradient><linearGradient id="vg7" gradientUnits="userSpaceOnUse" x1="0" y1="113.1" x2="0" y2="119.1"><stop offset="0" stop-color="#9a7ce8" stop-opacity=".55"/><stop offset="1" stop-color="#9a7ce8"/></linearGradient><linearGradient id="bg7" gradientUnits="userSpaceOnUse" x1="0" y1="131.6" x2="0" y2="139.1"><stop offset="0" stop-color="#45a5f8" stop-opacity=".35"/><stop offset="1" stop-color="#45a5f8"/></linearGradient><linearGradient id="vg8" gradientUnits="userSpaceOnUse" x1="0" y1="104.8" x2="0" y2="110.8"><stop offset="0" stop-color="#9a7ce8" stop-opacity=".55"/><stop offset="1" stop-color="#9a7ce8"/></linearGradient><linearGradient id="bg8" gradientUnits="userSpaceOnUse" x1="0" y1="132.8" x2="0" y2="140.3"><stop offset="0" stop-color="#45a5f8" stop-opacity=".35"/><stop offset="1" stop-color="#45a5f8"/></linearGradient><linearGradient id="vg9" gradientUnits="userSpaceOnUse" x1="0" y1="110.8" x2="0" y2="116.8"><stop offset="0" stop-color="#9a7ce8" stop-opacity=".55"/><stop offset="1" stop-color="#9a7ce8"/></linearGradient><linearGradient id="bg9" gradientUnits="userSpaceOnUse" x1="0" y1="118.6" x2="0" y2="126.1"><stop offset="0" stop-color="#45a5f8" stop-opacity=".35"/><stop offset="1" stop-color="#45a5f8"/></linearGradient><linearGradient id="vg10" gradientUnits="userSpaceOnUse" x1="0" y1="113.1" x2="0" y2="119.1"><stop offset="0" stop-color="#9a7ce8" stop-opacity=".55"/><stop offset="1" stop-color="#9a7ce8"/></linearGradient><linearGradient id="bg10" gradientUnits="userSpaceOnUse" x1="0" y1="128.1" x2="0" y2="135.6"><stop offset="0" stop-color="#45a5f8" stop-opacity=".35"/><stop offset="1" stop-color="#45a5f8"/></linearGradient><linearGradient id="vg11" gradientUnits="userSpaceOnUse" x1="0" y1="111.9" x2="0" y2="117.9"><stop offset="0" stop-color="#9a7ce8" stop-opacity=".55"/><stop offset="1" stop-color="#9a7ce8"/></linearGradient><linearGradient id="bg11" gradientUnits="userSpaceOnUse" x1="0" y1="129.3" x2="0" y2="136.8"><stop offset="0" stop-color="#45a5f8" stop-opacity=".35"/><stop offset="1" stop-color="#45a5f8"/></linearGradient><linearGradient id="vg12" gradientUnits="userSpaceOnUse" x1="0" y1="113.1" x2="0" y2="119.1"><stop offset="0" stop-color="#9a7ce8" stop-opacity=".55"/><stop offset="1" stop-color="#9a7ce8"/></linearGradient><linearGradient id="bg12" gradientUnits="userSpaceOnUse" x1="0" y1="125.7" x2="0" y2="133.2"><stop offset="0" stop-color="#45a5f8" stop-opacity=".35"/><stop offset="1" stop-color="#45a5f8"/></linearGradient><linearGradient id="vg13" gradientUnits="userSpaceOnUse" x1="0" y1="111.9" x2="0" y2="117.9"><stop offset="0" stop-color="#9a7ce8" stop-opacity=".55"/><stop offset="1" stop-color="#9a7ce8"/></linearGradient><linearGradient id="bg13" gradientUnits="userSpaceOnUse" x1="0" y1="126.9" x2="0" y2="134.4"><stop offset="0" stop-color="#45a5f8" stop-opacity=".35"/><stop offset="1" stop-color="#45a5f8"/></linearGradient></defs></svg>
<span class="t" style="left:301.0px;top:617.6px;font-size:7.6px;letter-spacing:0.00px;color:#4a5468;">1bvs</span>
<span class="t" style="left:301.0px;top:643.3px;font-size:7.6px;letter-spacing:0.00px;color:#4a5468;transform:scaleX(1.183);">1A3</span>
<span class="t" style="left:301.0px;top:667.3px;font-size:7.6px;letter-spacing:0.33px;color:#4a5468;transform:scaleX(1.200);">068</span>
<span class="t" style="left:301.0px;top:694.1px;font-size:7.6px;letter-spacing:0.00px;color:#4a5468;transform:scaleX(1.147);">0C0</span>
<span class="t" style="left:313.0px;top:718.5px;font-size:7.6px;letter-spacing:0.00px;color:#4a5468;">0</span>
<span class="t" style="left:328.9px;top:730.3px;font-size:7.6px;letter-spacing:0.00px;color:#404a5d;">Cits</span>
<span class="t" style="left:351.6px;top:730.3px;font-size:7.6px;letter-spacing:0.00px;color:#404a5d;">tlvs</span>
<span class="t" style="left:373.9px;top:730.3px;font-size:7.6px;letter-spacing:0.00px;color:#404a5d;">lNs</span>
<span class="t" style="left:395.1px;top:730.3px;font-size:7.6px;letter-spacing:0.00px;color:#404a5d;">SfV</span>
<span class="t" style="left:417.2px;top:730.3px;font-size:7.6px;letter-spacing:0.00px;color:#404a5d;">SlN</span>
<span class="t" style="left:438.4px;top:730.3px;font-size:7.6px;letter-spacing:0.00px;color:#404a5d;">Cits</span>
<span class="t" style="left:460.3px;top:730.3px;font-size:7.6px;letter-spacing:0.00px;color:#404a5d;">Sfia</span>
<span class="t" style="left:482.1px;top:730.3px;font-size:7.6px;letter-spacing:0.00px;color:#404a5d;">Eag</span>
<span class="t" style="left:505.9px;top:730.3px;font-size:7.6px;letter-spacing:0.00px;color:#404a5d;">Mit</span>
<span class="t" style="left:527.6px;top:730.3px;font-size:7.6px;letter-spacing:0.00px;color:#404a5d;">Nla</span>
<span class="t" style="left:548.4px;top:730.3px;font-size:7.6px;letter-spacing:0.00px;color:#404a5d;">Cits</span>
<span class="t" style="left:571.1px;top:730.3px;font-size:7.6px;letter-spacing:0.00px;color:#404a5d;">SlV</span>
<span class="t" style="left:592.8px;top:730.3px;font-size:7.6px;letter-spacing:0.00px;color:#404a5d;">SfN</span>
<span class="t" style="left:614.4px;top:730.3px;font-size:7.6px;letter-spacing:0.00px;color:#404a5d;">Hiai</span>
<div class="b" style="left:333.4px;top:624.6px;width:34.6px;height:23.4px;background:#263044;border-radius:2px;"></div>
<div class="b" style="left:336.0px;top:627.6px;width:5.5px;height:4.4px;background:#c23aa6;border-radius:0.8px;"></div>
<span class="t" style="left:343.0px;top:626.9px;font-size:5.6px;letter-spacing:0.00px;color:#8d96a8;transform:scaleX(1.052);">Rewns</span>
<span class="t" style="left:343.0px;top:635.9px;font-size:5.6px;letter-spacing:0.00px;color:#7e879a;transform:scaleX(1.130);">fuoase</span>
<div class="b" style="left:343.0px;top:642.2px;width:19.0px;height:0.6px;background:#5a6478;border-radius:0px;"></div>
<span class="t" style="left:673.3px;top:580.8px;font-size:10.6px;letter-spacing:-0.00px;color:#e6e9f1;font-weight:bold;transform:scaleX(1.008);">Hyeling True</span>
<span class="t" style="left:742.5px;top:582.6px;font-size:8.2px;letter-spacing:0.00px;color:#a83a92;transform:scaleX(1.174);">0 sn TDwrk</span>
<svg class="b" style="left:831.1px;top:583.3px;" width="8.6" height="5.4" viewBox="0 0 8.6 5.4"><path d="M1 4.4 L4.3 1 L7.6 4.4" fill="none" stroke="#5a6375" stroke-width="1.1" stroke-linecap="round" stroke-linejoin="round"/></svg>
<svg class="b" style="left:845.3px;top:583.1px;" width="9.4" height="5.8" viewBox="0 0 9.4 5.8"><path d="M1 1 L4.7 4.8 L8.4 1" fill="none" stroke="#c9ced9" stroke-width="1.25" stroke-linecap="round" stroke-linejoin="round"/></svg>
<svg class="b" style="left:862.2px;top:583.1px;" width="9.6" height="5.7" viewBox="0 0 9.6 5.7"><path d="M1 1 L4.8 4.7 L8.6 1" fill="none" stroke="#c9ced9" stroke-width="1.25" stroke-linecap="round" stroke-linejoin="round"/></svg>
<svg class="b" style="left:661.8px;top:567.0px;" width="221.5" height="187.5" viewBox="0 0 221.5 187.5"><defs><linearGradient id="dv" gradientUnits="userSpaceOnUse" x1="71.7" y1="106.4" x2="95.7" y2="72.4"><stop offset="0" stop-color="#5a56d6"/><stop offset=".75" stop-color="#7b48d4"/><stop offset="1" stop-color="#d62cc6"/></linearGradient><linearGradient id="dm" gradientUnits="userSpaceOnUse" x1="107.7" y1="70.4" x2="143.7" y2="116.4"><stop offset="0" stop-color="#ec1fb4"/><stop offset="1" stop-color="#e11ecf"/></linearGradient></defs><path d="M141.85 114.92 A35.20 35.20 0 0 1 72.59 103.94" fill="none" stroke="#4a9ff5" stroke-width="7.2"/><path d="M142.37 112.51 A35.20 35.20 0 0 1 138.78 122.93" fill="none" stroke="#5fb2fb" stroke-width="7.2"/><path d="M72.59 103.94 A35.20 35.20 0 0 1 95.66 73.32" fill="none" stroke="url(#dv)" stroke-width="7.2"/><path d="M92.27 74.76 A35.20 35.20 0 0 1 141.70 115.51" fill="none" stroke="url(#dm)" stroke-width="7.2"/><path d="M109.7 104.4 L129.3 89.0" stroke="#c9315c" stroke-width="1.1" stroke-linecap="round"/></svg>
<span class="t" style="left:766.6px;top:670.0px;font-size:8.6px;letter-spacing:0.00px;color:#ffffff;font-weight:bold;transform:scaleX(0.966);">A</span>
<span class="t" style="left:762.3px;top:618.7px;font-size:6.8px;letter-spacing:0.00px;color:#3c4658;">Vvget</span>
<span class="t" style="left:716.1px;top:645.6px;font-size:6.8px;letter-spacing:0.00px;color:#3c4658;">Sthj</span>
<span class="t" style="left:808.1px;top:645.7px;font-size:6.8px;letter-spacing:0.00px;color:#3c4658;">Lune</span>
<span class="t" style="left:715.8px;top:692.9px;font-size:6.8px;letter-spacing:0.00px;color:#3c4658;">Ster</span>
<span class="t" style="left:812.1px;top:692.7px;font-size:6.8px;letter-spacing:0.00px;color:#3c4658;">Wat</span>
<span class="t" style="left:730.2px;top:709.2px;font-size:6.8px;letter-spacing:0.00px;color:#3c4658;">Vver</span>
<span class="t" style="left:797.6px;top:709.2px;font-size:6.8px;letter-spacing:0.00px;color:#3c4658;">Sev</span>
<div class="b" style="left:719.0px;top:734.6px;width:5.4px;height:4.6px;background:#3f8ae0;border-radius:0.6px;"></div>
<span class="t" style="left:727.0px;top:733.1px;font-size:7.6px;letter-spacing:0.00px;color:#6d778a;transform:scaleX(1.153);">S l'tAle</span>
<div class="b" style="left:762.5px;top:736.4px;width:5.0px;height:1.2px;background:#3663b0;border-radius:0px;"></div>
<span class="t" style="left:769.0px;top:733.1px;font-size:7.6px;letter-spacing:0.00px;color:#59647a;transform:scaleX(1.076);">Ster</span>
<div class="b" style="left:794.6px;top:734.8px;width:6.4px;height:4.0px;background:#f0b8a8;border-radius:0.6px;"></div>
<span class="t" style="left:802.0px;top:733.3px;font-size:7.2px;letter-spacing:0.00px;color:#6d778a;transform:scaleX(0.991);">7l4 f08s</span>
<span class="t" style="left:906.0px;top:580.9px;font-size:10.6px;letter-spacing:0.00px;color:#e6e9f1;font-weight:bold;transform:scaleX(1.077);">Dashming</span>
<span class="t" style="left:967.0px;top:582.7px;font-size:8.2px;letter-spacing:0.00px;color:#a83a92;transform:scaleX(1.176);">0 nt TDoak</span>
<svg class="b" style="left:1141.5px;top:583.2px;" width="9.6" height="5.8" viewBox="0 0 9.6 5.8"><path d="M1 1 L4.8 4.8 L8.6 1" fill="none" stroke="#d5dae4" stroke-width="1.25" stroke-linecap="round" stroke-linejoin="round"/></svg>
<div class="b" style="left:1159.0px;top:576.0px;width:41.0px;height:20.5px;background:#343e57;border-radius:10.2px;"></div>
<span class="t" style="left:1167.0px;top:582.1px;font-size:8.4px;letter-spacing:0.00px;color:#97a2b8;transform:scaleX(0.992);">Chautr</span>
<svg class="b" style="left:905.4px;top:622.0px;" width="16" height="16" viewBox="0 0 16 16"><circle cx="8" cy="8" r="6.6" fill="#f4f2f0"/><path d="M3.6 6.4 C3.6 2 9.6 1.6 10.4 5 L9.8 9.4 L7.4 12.8 H4 C3 10.6 3.4 8.6 3.6 6.4Z" fill="#b54a20"/><ellipse cx="8.6" cy="7.4" rx="1.8" ry="2.4" fill="#f0c6a4"/><path d="M5.6 14.4 C6 11.8 10.6 11.8 11 14.4Z" fill="#d8dce6"/></svg>
<span class="t" style="left:925.3px;top:625.4px;font-size:9.2px;letter-spacing:0.00px;color:#b6bdcc;transform:scaleX(1.068);">Sobel Fonit</span>
<span class="t" style="left:1011.7px;top:625.4px;font-size:9.2px;letter-spacing:-0.00px;color:#b6bdcc;transform:scaleX(1.163);">Catctor</span>
<span class="t" style="left:1083.8px;top:625.4px;font-size:9.2px;letter-spacing:0.00px;color:#b6bdcc;transform:scaleX(1.086);">Valees</span>
<svg class="b" style="left:1184.5px;top:622.0px;" width="13" height="12" viewBox="0 0 13 12"><path d="M2 8.6 L4.4 3 L6.8 8.6 M3 6.8 H5.8 M7.6 6 L9 7.8 L11.6 3.4 M2 10.6 H7.6" fill="none" stroke="#8f98aa" stroke-width=".95" stroke-linecap="round" stroke-linejoin="round"/></svg>
<div class="b" style="left:906.0px;top:645.6px;width:293.0px;height:0.8px;background:#202a3a;border-radius:0px;"></div>
<div class="b" style="left:906.0px;top:682.8px;width:293.0px;height:0.8px;background:#202a3a;border-radius:0px;"></div>
<div class="b" style="left:906.0px;top:718.6px;width:293.0px;height:0.8px;background:#202a3a;border-radius:0px;"></div>
<svg class="b" style="left:905.4px;top:657.5px;" width="16" height="16" viewBox="0 0 16 16"><circle cx="8" cy="8" r="6.6" fill="#ef3fae"/><path d="M4.4 5 C6 3 9.4 3 10.6 5.2 C9 6.6 6.4 6.8 4.4 5Z" fill="#f98ad0"/><path d="M5 10.4 C6.4 12.2 9.6 12 10.8 10.2" fill="none" stroke="#c21f8e" stroke-width="1.2"/></svg>
<span class="t" style="left:925.0px;top:659.9px;font-size:11.6px;letter-spacing:0.00px;color:#dfe3eb;transform:scaleX(1.030);">A6J,75</span>
<span class="t" style="left:1014.0px;top:660.2px;font-size:11.0px;letter-spacing:0.00px;color:#dfe3eb;transform:scaleX(0.990);">7.47</span>
<span class="t" style="left:1084.2px;top:659.9px;font-size:11.6px;letter-spacing:0.00px;color:#dfe3eb;transform:scaleX(1.049);">71,B4</span>
<span class="t" style="left:1170.0px;top:661.7px;font-size:8.0px;letter-spacing:0.00px;color:#8e2a82;font-weight:bold;transform:scaleX(1.125);">Mit</span>
<svg class="b" style="left:1187.2px;top:663.3px;" width="8" height="5" viewBox="0 0 8 5"><path d="M1.4 1 L4 3.6 L6.6 1" fill="none" stroke="#1f4a50" stroke-width="1.1" stroke-linecap="round" stroke-linejoin="round"/></svg>
<svg class="b" style="left:905.4px;top:693.8px;" width="16" height="16" viewBox="0 0 16 16"><circle cx="8" cy="8" r="6.6" fill="#f08a2a"/><circle cx="8" cy="8" r="6.1" fill="none" stroke="#e9c6a0" stroke-width="1"/><path d="M4 7.6 C5 4.4 9.6 3.6 11.4 6 C9.6 6.4 9 8.2 9.6 10.4 C7.6 11.6 4.4 10.6 4 7.6Z" fill="#c6391c"/><path d="M8.8 6.2 L10.8 7.4 L9 8.4Z" fill="#ffd27a"/></svg>
<span class="t" style="left:925.0px;top:696.2px;font-size:11.6px;letter-spacing:0.00px;color:#dfe3eb;transform:scaleX(1.012);">A99,21</span>
<span class="t" style="left:1014.0px;top:696.5px;font-size:11.0px;letter-spacing:0.00px;color:#dfe3eb;transform:scaleX(0.990);">7.30</span>
<span class="t" style="left:1087.6px;top:696.7px;font-size:10.6px;letter-spacing:0.00px;color:#982f96;font-weight:bold;transform:scaleX(1.018);">79.48</span>
<span class="t" style="left:1168.0px;top:698.0px;font-size:8.0px;letter-spacing:0.00px;color:#1c5656;font-weight:bold;transform:scaleX(1.089);">MIh</span>
<svg class="b" style="left:1187.2px;top:699.6px;" width="8" height="5" viewBox="0 0 8 5"><path d="M1.4 1 L4 3.6 L6.6 1" fill="none" stroke="#1f4a50" stroke-width="1.1" stroke-linecap="round" stroke-linejoin="round"/></svg>
<svg class="b" style="left:905.4px;top:728.4px;" width="16" height="16" viewBox="0 0 16 16"><circle cx="8" cy="8" r="6.6" fill="#8f9a2a"/><circle cx="8" cy="8" r="6.1" fill="none" stroke="#d9c24c" stroke-width="1.1"/><path d="M4.6 6 C5.6 3.6 9.6 3.4 10.6 6 L10 9.4 L8 11 L5.6 9.6Z" fill="#3c5a2a"/><ellipse cx="7.8" cy="7.4" rx="1.7" ry="2.1" fill="#e7a36c"/><path d="M4.6 13.6 C5.4 11 10.4 11 11.2 13.6Z" fill="#c4531f"/></svg>
<span class="t" style="left:925.0px;top:731.9px;font-size:9.4px;letter-spacing:0.00px;color:#cdd2dd;transform:scaleX(1.067);-webkit-text-stroke:.3px #cdd2dd;">Bbly comgset</span>
<span class="t" style="left:1014.0px;top:730.8px;font-size:11.6px;letter-spacing:-0.00px;color:#dfe3eb;transform:scaleX(1.101);">50</span>
<svg class="b" style="left:1103.0px;top:731.5px;" width="12" height="10" viewBox="0 0 12 10"><path d="M1.6 7.8 L4 5.6 L2.2 4 M5 7.6 L7 6 M7.4 2.4 L9.8 2 L9.6 5.2 M8 8 L10 7.6" fill="none" stroke="#d5dae4" stroke-width="1.15" stroke-linecap="round" stroke-linejoin="round"/></svg>
<span class="t" style="left:1162.0px;top:732.3px;font-size:8.6px;letter-spacing:0.00px;color:#1c5560;font-weight:bold;transform:scaleX(1.098);">2200</span>
<svg class="b" style="left:1187.2px;top:734.2px;" width="8" height="5" viewBox="0 0 8 5"><path d="M1.4 1 L4 3.6 L6.6 1" fill="none" stroke="#1f4a50" stroke-width="1.1" stroke-linecap="round" stroke-linejoin="round"/></svg>
<span class="t" style="left:1240.5px;top:206.1px;font-size:10.6px;letter-spacing:0.00px;color:#e6e9f1;font-weight:bold;transform:scaleX(1.149);">Settltes</span>
<div class="b" style="left:1366.3px;top:203.0px;width:17.2px;height:15.6px;background:#232d40;border-radius:4px;"></div>
<svg class="b" style="left:1370.0px;top:206.0px;" width="10" height="10" viewBox="0 0 10 10"><path d="M4.6 1.6 V8.6 M4.6 4.6 H7.6" stroke="#4f596d" stroke-width="1.1" fill="none" stroke-linecap="round"/></svg>
<svg class="b" style="left:1250.0px;top:238.0px;" width="8" height="11" viewBox="0 0 8 11"><path d="M6 1.4 L2 5.5 L6 9.6" fill="none" stroke="#b8bfcd" stroke-width="1.3" stroke-linecap="round" stroke-linejoin="round"/></svg>
<span class="t" style="left:1266.7px;top:239.1px;font-size:9.2px;letter-spacing:0.00px;color:#c5cbd8;transform:scaleX(1.023);">Nene</span>
<svg class="b" style="left:1372.3px;top:238.0px;" width="7" height="11" viewBox="0 0 7 11"><path d="M1.6 1.4 L5.4 5.5 L1.6 9.6" fill="none" stroke="#5a6479" stroke-width="1.2" stroke-linecap="round" stroke-linejoin="round"/></svg>
<span class="t" style="left:1266.7px;top:272.0px;font-size:9.2px;letter-spacing:0.00px;color:#c5cbd8;transform:scaleX(1.029);">Dys</span>
<svg class="b" style="left:1372.3px;top:270.9px;" width="7" height="11" viewBox="0 0 7 11"><path d="M1.6 1.4 L5.4 5.5 L1.6 9.6" fill="none" stroke="#5a6479" stroke-width="1.2" stroke-linecap="round" stroke-linejoin="round"/></svg>
<div class="b" style="left:1258.5px;top:293.4px;width:129.1px;height:25.6px;background:#293549;border-radius:12.8px;"></div>
<span class="t" style="left:1265.5px;top:301.4px;font-size:9.8px;letter-spacing:0.00px;color:#eef0f6;transform:scaleX(1.164);">Aouit</span>
<svg class="b" style="left:1372.3px;top:300.7px;" width="7" height="11" viewBox="0 0 7 11"><path d="M1.6 1.4 L5.4 5.5 L1.6 9.6" fill="none" stroke="#d5dae4" stroke-width="1.4" stroke-linecap="round" stroke-linejoin="round"/></svg>
<span class="t" style="left:1245.5px;top:304.1px;font-size:10.5px;letter-spacing:0.00px;color:#e0e4ec;font-weight:bold;">1</span>
<span class="t" style="left:1266.7px;top:333.3px;font-size:9.2px;letter-spacing:0.00px;color:#c5cbd8;transform:scaleX(1.013);">Pesihg</span>
<svg class="b" style="left:1372.3px;top:332.2px;" width="7" height="11" viewBox="0 0 7 11"><path d="M1.6 1.4 L5.4 5.5 L1.6 9.6" fill="none" stroke="#4a5468" stroke-width="1.2" stroke-linecap="round" stroke-linejoin="round"/></svg>
<svg class="b" style="left:1241.0px;top:363.0px;" width="15" height="15" viewBox="0 0 15 15"><path d="M2.6 6 L7.4 1.8 L12.2 6 V13 H2.6Z" fill="none" stroke="#ccd1dc" stroke-width="1.15" stroke-linejoin="round"/><path d="M5.6 10.6 L7 6.6 L9.6 7.6 L8.4 10.4Z" fill="#ccd1dc"/></svg>
<span class="t" style="left:1266.2px;top:366.3px;font-size:9.2px;letter-spacing:-0.00px;color:#c5cbd8;transform:scaleX(1.085);">Stoines</span>
<span class="t" style="left:1240.8px;top:399.1px;font-size:7.6px;letter-spacing:0.00px;color:#e0e4ec;font-weight:bold;">4</span>
<span class="t" style="left:1246.2px;top:399.2px;font-size:11.0px;letter-spacing:0.00px;color:#e0e4ec;font-weight:bold;">5</span>
<span class="t" style="left:1266.2px;top:399.8px;font-size:9.2px;letter-spacing:0.00px;color:#c5cbd8;transform:scaleX(1.139);">Catectre</span>
<svg class="b" style="left:1240.0px;top:431.0px;" width="16" height="14" viewBox="0 0 16 14"><path d="M2 3.2 L4.6 4 L8 3.2 L11.4 4 L14 3.2 C14.4 8 12 11.6 8 11.8 C4 11.6 1.6 8 2 3.2Z" fill="none" stroke="#ccd1dc" stroke-width="1.15" stroke-linejoin="round"/></svg>
<span class="t" style="left:1266.2px;top:433.6px;font-size:9.2px;letter-spacing:0.00px;color:#c5cbd8;transform:scaleX(1.132);">Faodbury</span>
<svg class="b" style="left:1240.5px;top:465.0px;" width="15" height="15" viewBox="0 0 15 15"><circle cx="7.6" cy="7.6" r="5.8" fill="none" stroke="#ccd1dc" stroke-width="1.15"/><path d="M7.6 3.8 V8 L5.4 9.4 M9.6 5 L10 8.8" fill="none" stroke="#ccd1dc" stroke-width="1" stroke-linecap="round"/></svg>
<span class="t" style="left:1266.2px;top:467.9px;font-size:9.6px;letter-spacing:0.00px;color:#c5cbd8;transform:scaleX(1.032);">MD</span>
<svg class="b" style="left:1240.0px;top:498.0px;" width="16" height="15" viewBox="0 0 16 15"><ellipse cx="8" cy="7.4" rx="6.6" ry="6" fill="#ccd1dc"/><path d="M1.6 7.6 H14.4" stroke="#1a2332" stroke-width="1.1"/><path d="M3.4 5.4 H6 M7 5.4 H9.4 M10.4 5.4 H12.6 M9.6 9.6 L12 9.6" stroke="#1a2332" stroke-width="1.2"/></svg>
<span class="t" style="left:1266.2px;top:501.0px;font-size:9.2px;letter-spacing:0.00px;color:#c5cbd8;transform:scaleX(1.078);">Ferel</span>
<div class="b" style="left:1237.6px;top:721.0px;width:72.8px;height:26.0px;background:#222d42;border-radius:9px;"></div>
<span class="t" style="left:1253.0px;top:731.1px;font-size:9.2px;letter-spacing:0.00px;color:#a9b2c4;transform:scaleX(1.057);">Cartlect</span>
<div class="b" style="left:1319.5px;top:721.0px;width:27.5px;height:26.0px;background:#1e2839;border-radius:5px;"></div>
<div class="b" style="left:1356.0px;top:721.0px;width:26.2px;height:26.0px;background:#1e2839;border-radius:5px;"></div>
<svg class="b" style="left:1328.0px;top:729.0px;" width="13" height="13" viewBox="0 0 13 13"><rect x="1.2" y="1.4" width="10.6" height="9.6" fill="none" stroke="#aab3c6" stroke-width="1.1"/><path d="M3.2 3.6 H9 L7.6 5.6 L9.4 8.2 H3.2Z" fill="#aab3c6"/><path d="M1.2 11.6 H11.8" stroke="#aab3c6" stroke-width="1"/></svg>
<svg class="b" style="left:1361.5px;top:727.5px;" width="16" height="16" viewBox="0 0 16 16"><path d="M4.6 10.6 C2.6 6 5.6 2.4 9 2.6 C13 3 13.8 7.4 12.2 9.8 C10.6 12 7.6 12.2 5.4 11.4 L3 12.4 Z" fill="none" stroke="#aab3c6" stroke-width="1.2" stroke-linejoin="round"/></svg>
<div class="b" style="left:1141.8px;top:229.8px;width:113.2px;height:75.0px;background:#2a374b;border-radius:9px;box-shadow:0 2px 8px rgba(5,8,16,.35);"></div>
<span class="t" style="left:1152.6px;top:239.9px;font-size:14.6px;letter-spacing:0.00px;color:#e6e9f0;transform:scaleX(1.073);-webkit-text-stroke:.3px #e6e9f0;">Key</span>
<span class="t" style="left:1152.6px;top:264.4px;font-size:17.2px;letter-spacing:0.67px;color:#e6e9f0;font-weight:bold;transform:scaleX(1.200);">$34 660</span>
<span class="t" style="left:1153.0px;top:287.6px;font-size:8.0px;letter-spacing:0.00px;color:#5d677b;transform:scaleX(1.075);">Ose Thcity cnall</span>
</body></html>
